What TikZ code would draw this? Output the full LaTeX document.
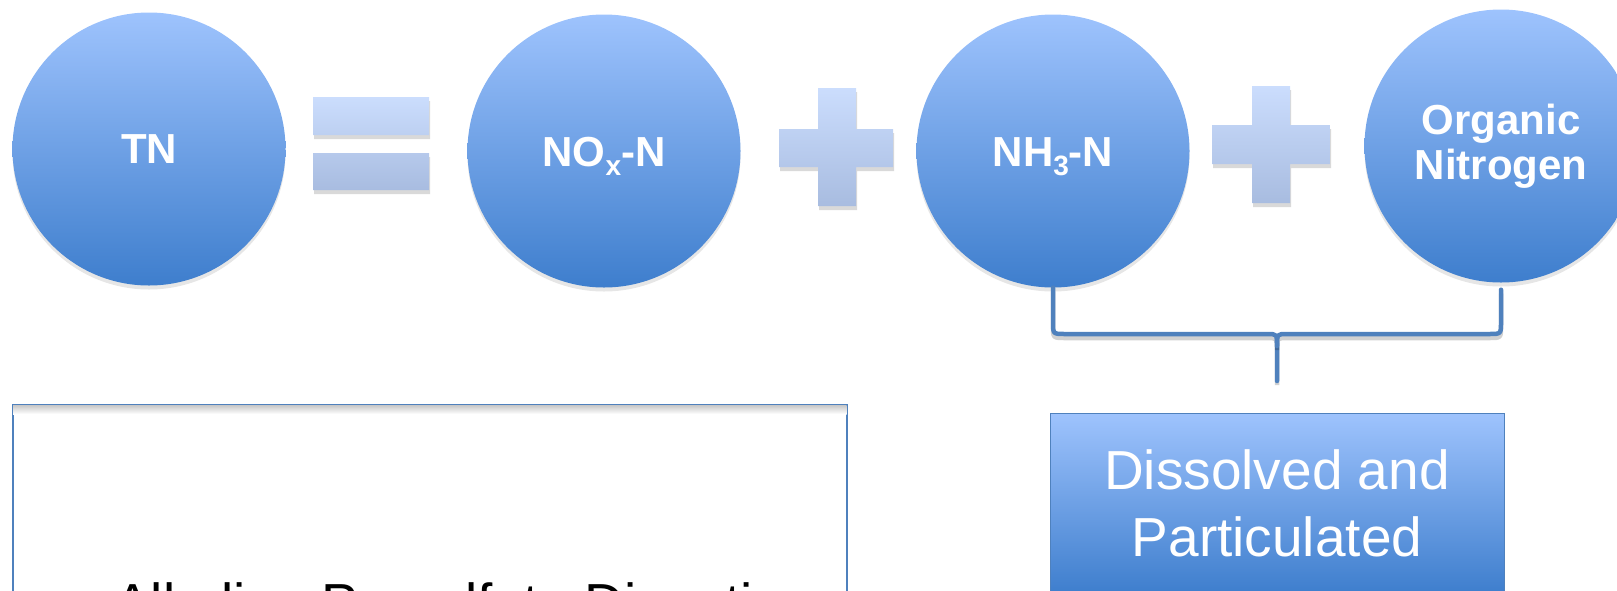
\documentclass[tikz,border=0pt]{standalone}
\usepackage{fontspec}
\setmainfont{Liberation Sans}
\usetikzlibrary{shadows,calc}
\definecolor{ctop}{RGB}{158,195,253}
\definecolor{cbot}{RGB}{62,126,205}
\definecolor{stop}{RGB}{203,221,253}
\definecolor{sbot}{RGB}{168,188,224}
\definecolor{bline}{RGB}{79,129,189}
\begin{document}
\begin{tikzpicture}[x=1pt,y=-1pt,
  circ/.style={circle, minimum size=273pt, inner sep=0pt, top color=ctop, bottom color=cbot,
    text=white, font=\fontsize{42}{45}\selectfont\bfseries, align=center,
    drop shadow={shadow xshift=0pt, shadow yshift=-4pt, opacity=0.2}},
  sign/.style={top color=stop, bottom color=sbot,
    drop shadow={shadow xshift=1pt, shadow yshift=-4pt, opacity=0.3}},
  brace/.style={preaction={draw=black, line width=4.5pt, opacity=0.18, transform canvas={yshift=-4pt}},
    draw=bline, line width=4.5pt, line cap=round, line join=round},
  dbox/.style={rectangle, draw=bline, line width=1pt, top color=ctop, bottom color=cbot,
    minimum width=454pt, minimum height=180pt, inner sep=0pt, text=white,
    font=\fontsize{55}{67}\selectfont, align=center,
    drop shadow={shadow xshift=0pt, shadow yshift=-4pt, opacity=0.2}},
  lbox/.style={rectangle, draw=bline, line width=1.5pt, fill=white, minimum width=834pt,
    minimum height=300pt, inner sep=0pt},
]
\useasboundingbox (0,0) rectangle (1617,590);
\clip (0,0) rectangle (1617,590);

% circles
\node[circ] (tn) at (149,149) {TN};
\node[circ, text height=30pt, text depth=0pt] (nox) at (604,151) {NO\raisebox{-9pt}{\fontsize{28}{30}\selectfont x}-N};
\node[circ, text height=30pt, text depth=0pt] (nh3) at (1053,151) {NH\raisebox{-9pt}{\fontsize{28}{30}\selectfont 3}-N};
\node[circ] (org) at (1501,146) {Organic\\Nitrogen};

% equals sign
\path[sign] (313,97) rectangle (429,135) (313,153) rectangle (429,190);

% plus signs
\path[sign] (818,88) -- (856,88) -- (856,129) -- (893,129) -- (893,167) -- (856,167)
  -- (856,206) -- (818,206) -- (818,167) -- (779,167) -- (779,129) -- (818,129) -- cycle;
\path[sign] (1252,86) -- (1290,86) -- (1290,125) -- (1330,125) -- (1330,164) -- (1290,164)
  -- (1290,203) -- (1252,203) -- (1252,164) -- (1212,164) -- (1212,125) -- (1252,125) -- cycle;

% brace
\coordinate (mid) at (1277,334);
\coordinate (tip) at (1277,381);
\coordinate (orgfoot) at ($(org.south)+(0,7)$);
\draw[brace] (nh3.south) -- ($(nh3.south |- mid)+(0,-12)$)
  .. controls ($(nh3.south |- mid)$) .. ($(nh3.south |- mid)+(12,0)$)
  -- ($(mid)+(-10,0)$) .. controls (mid) .. ($(mid)+(0,12)$) -- (tip);
\draw[brace] (orgfoot) -- ($(orgfoot |- mid)+(0,-12)$)
  .. controls ($(orgfoot |- mid)$) .. ($(orgfoot |- mid)+(-12,0)$)
  -- ($(mid)+(10,0)$) .. controls (mid) .. ($(mid)+(0,12)$);

% dissolved box
\node[dbox, anchor=north] (dis) at (1277,413) {Dissolved and\\Particulated};

% left box
\node[lbox, anchor=north west] (alk) at (12,404) {};
\shade[top color=black!22, bottom color=white] ([xshift=1pt,yshift=-1pt]alk.north west) rectangle ([xshift=-1pt,yshift=-10pt]alk.north east);
\node[font=\fontsize{55}{66}\selectfont, anchor=base west, inner sep=0pt] (alktext) at (114,622) {Alkaline Persulfate Digestion};
\end{tikzpicture}
\end{document}
